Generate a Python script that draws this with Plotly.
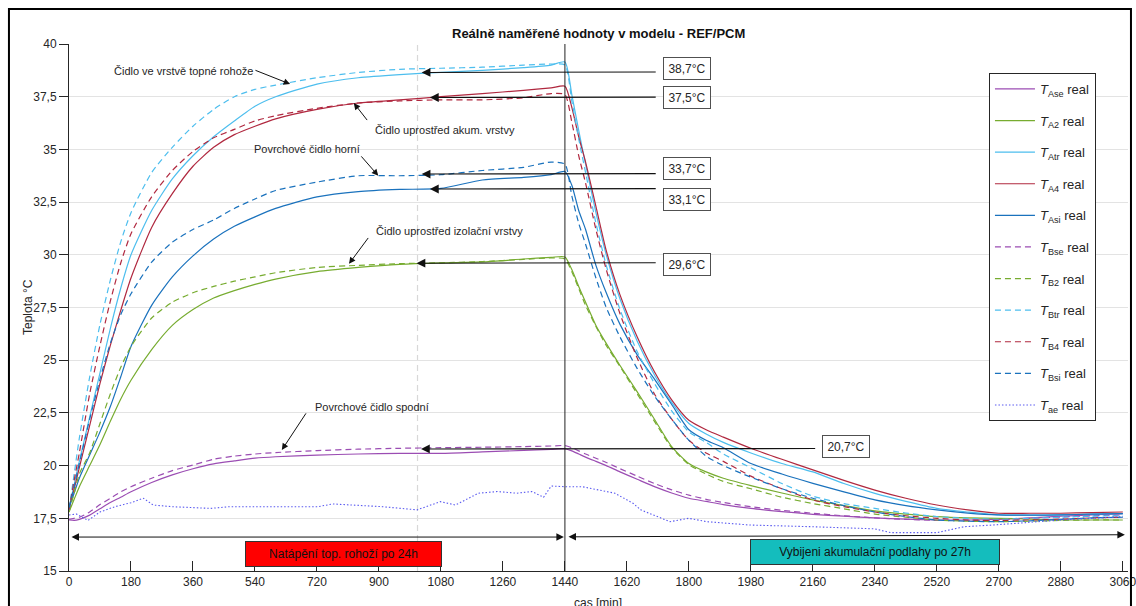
import plotly.graph_objects as go

# ---------------- data ----------------
t = [0, 15, 30, 60, 90, 120, 150, 180, 240, 300, 360, 420, 480, 540, 600, 720, 840, 960,
     1080, 1200, 1320, 1400, 1440, 1460, 1480, 1500, 1530, 1560, 1600, 1650, 1700, 1750,
     1800, 1850, 1900, 1980, 2070, 2160, 2250, 2340, 2430, 2520, 2610, 2700, 2790, 2880,
     2970, 3060]

T_Ase = [17.42, 17.40, 17.45, 17.65, 17.95, 18.25, 18.50, 18.76, 19.20, 19.56, 19.85, 20.08,
         20.22, 20.35, 20.42, 20.50, 20.55, 20.58, 20.58, 20.65, 20.72, 20.77, 20.80, 20.70,
         20.55, 20.40, 20.20, 20.00, 19.70, 19.35, 19.00, 18.70, 18.45, 18.30, 18.15, 17.97,
         17.82, 17.69, 17.60, 17.52, 17.46, 17.42, 17.42, 17.45, 17.52, 17.60, 17.66, 17.72]
T_A2 = [17.80, 18.40, 19.00, 20.00, 21.00, 22.10, 23.15, 24.05, 25.50, 26.65, 27.40, 27.95,
        28.30, 28.60, 28.85, 29.20, 29.40, 29.55, 29.62, 29.66, 29.80, 29.88, 29.90, 29.30,
        28.50, 27.75, 26.65, 25.80, 24.75, 23.50, 22.20, 20.90, 20.10, 19.70, 19.40, 19.05,
        18.70, 18.37, 18.10, 17.85, 17.70, 17.58, 17.52, 17.50, 17.46, 17.42, 17.42, 17.42]
T_Atr = [18.00, 19.10, 20.20, 22.30, 24.40, 26.50, 28.40, 30.00, 32.10, 33.60, 34.70, 35.60,
         36.35, 37.05, 37.50, 38.10, 38.40, 38.55, 38.65, 38.75, 38.88, 39.00, 39.15, 37.60,
         35.90, 34.30, 32.00, 30.00, 27.90, 25.90, 24.30, 23.00, 22.00, 21.50, 21.10, 20.60,
         20.10, 19.70, 19.15, 18.68, 18.30, 17.97, 17.80, 17.66, 17.65, 17.66, 17.70, 17.72]
T_A4 = [18.00, 18.90, 19.90, 21.90, 23.90, 25.70, 27.35, 28.90, 31.30, 32.90, 34.20, 35.10,
        35.70, 36.10, 36.45, 36.90, 37.20, 37.35, 37.50, 37.65, 37.80, 37.92, 38.00, 37.00,
        35.60, 34.40, 32.30, 30.20, 28.10, 26.10, 24.45, 23.12, 22.15, 21.70, 21.35, 20.82,
        20.30, 19.80, 19.30, 18.84, 18.45, 18.13, 17.90, 17.74, 17.74, 17.74, 17.77, 17.80]
T_Asi = [18.00, 18.70, 19.40, 20.50, 21.60, 22.80, 24.20, 25.65, 27.60, 28.95, 29.95, 30.75,
         31.35, 31.80, 32.20, 32.75, 33.00, 33.10, 33.15, 33.55, 33.67, 33.80, 33.95, 33.30,
         32.10, 31.20, 29.50, 28.20, 26.70, 25.25, 24.10, 22.90, 21.70, 21.20, 20.85, 20.10,
         19.60, 19.16, 18.75, 18.37, 18.10, 17.90, 17.75, 17.66, 17.65, 17.66, 17.70, 17.72]
T_Bse = [17.45, 17.50, 17.55, 17.80, 18.15, 18.45, 18.75, 19.00, 19.40, 19.76, 20.03, 20.30,
         20.45, 20.55, 20.62, 20.71, 20.78, 20.82, 20.85, 20.87, 20.90, 20.93, 20.95, 20.85,
         20.70, 20.55, 20.35, 20.15, 19.85, 19.50, 19.15, 18.85, 18.60, 18.40, 18.25, 18.05,
         17.88, 17.74, 17.62, 17.52, 17.45, 17.40, 17.40, 17.42, 17.50, 17.56, 17.62, 17.66]
T_B2 = [17.80, 18.70, 19.60, 20.60, 22.00, 23.40, 24.65, 25.65, 27.00, 27.75, 28.20, 28.50,
        28.75, 28.95, 29.15, 29.40, 29.50, 29.58, 29.62, 29.68, 29.78, 29.85, 29.80, 29.20,
        28.40, 27.60, 26.60, 25.70, 24.70, 23.40, 22.10, 20.85, 20.05, 19.60, 19.25, 18.90,
        18.50, 18.20, 17.95, 17.70, 17.55, 17.42, 17.36, 17.34, 17.36, 17.40, 17.42, 17.42]
T_Btr = [17.90, 19.60, 21.30, 24.20, 26.70, 28.80, 30.60, 32.00, 33.90, 35.10, 36.10, 36.90,
         37.50, 37.85, 38.05, 38.40, 38.65, 38.80, 38.85, 38.90, 39.00, 39.05, 39.00, 37.30,
         35.50, 33.90, 31.50, 29.50, 27.40, 25.40, 23.90, 22.60, 21.60, 21.10, 20.55, 19.90,
         19.15, 18.55, 18.20, 17.97, 17.75, 17.58, 17.50, 17.45, 17.50, 17.55, 17.60, 17.62]
T_B4 = [17.90, 19.30, 20.60, 23.40, 25.70, 27.80, 29.60, 31.00, 32.75, 34.00, 34.90, 35.55,
        35.95, 36.35, 36.60, 36.95, 37.20, 37.30, 37.35, 37.35, 37.45, 37.65, 37.60, 36.30,
        34.70, 33.40, 31.20, 29.30, 27.20, 25.10, 23.40, 22.20, 21.20, 20.60, 20.20, 19.50,
        18.90, 18.37, 18.05, 17.80, 17.62, 17.50, 17.42, 17.40, 17.42, 17.46, 17.52, 17.55]
T_Bsi = [18.00, 19.00, 20.10, 22.20, 24.10, 25.80, 27.15, 28.15, 29.65, 30.60, 31.20, 31.65,
         32.20, 32.65, 33.05, 33.45, 33.75, 33.75, 33.80, 34.00, 34.15, 34.40, 34.30, 32.80,
         31.50, 30.50, 28.90, 27.50, 26.10, 24.60, 23.30, 22.20, 21.20, 20.45, 20.00, 19.45,
         18.90, 18.45, 18.10, 17.80, 17.58, 17.42, 17.36, 17.34, 17.38, 17.45, 17.52, 17.55]

tae_t = [0, 22, 55, 90, 133, 180, 216, 244, 300, 411, 466, 577, 722, 766, 911, 1011, 1078,
         1122, 1189, 1244, 1300, 1344, 1378, 1400, 1440, 1490, 1585, 1639, 1660, 1745, 1799,
         1852, 1978, 2159, 2339, 2386, 2520, 2599, 2700, 2880, 3060]
T_ae = [17.66, 17.70, 17.40, 17.80, 18.05, 18.24, 18.45, 18.13, 18.05, 17.97, 18.05, 18.05,
        18.05, 18.18, 18.05, 17.90, 18.29, 18.13, 18.69, 18.77, 18.69, 18.77, 18.50, 19.03,
        19.00, 19.00, 18.69, 18.20, 17.90, 17.34, 17.50, 17.34, 17.18, 17.10, 17.00, 16.82,
        16.82, 17.10, 17.20, 17.42, 17.58]

x_ticks = list(range(0, 3061, 180))
y_ticks = [15, 17.5, 20, 22.5, 25, 27.5, 30, 32.5, 35, 37.5, 40]
y_ticktext = ["15", "17,5", "20", "22,5", "25", "27,5", "30", "32,5", "35", "37,5", "40"]

# value call-outs: label, value pointed at, time of arrow head
callout_labels = ["38,7°C", "37,5°C", "33,7°C", "33,1°C", "29,6°C", "20,7°C"]
callout_values = [38.65, 37.46, 33.83, 33.12, 29.60, 20.79]
callout_head_t = [1024, 1048, 1024, 1048, 1009, 1022]

# ---------------- styling ----------------
C_PUR = "#9B4DB3"
C_GRN = "#77AC30"
C_LBL = "#4DBEEE"
C_RED = "#B0283F"
C_BLU = "#1A72BD"
C_AE = "#5A5AF0"
FONT = "Liberation Sans, Arial, sans-serif"
TXT = "#262626"

series = [
    ("Ase", T_Ase, C_PUR, "solid"), ("A2", T_A2, C_GRN, "solid"),
    ("Atr", T_Atr, C_LBL, "solid"), ("A4", T_A4, C_RED, "solid"),
    ("Asi", T_Asi, C_BLU, "solid"), ("Bse", T_Bse, C_PUR, "6px,4px"),
    ("B2", T_B2, C_GRN, "6px,4px"), ("Btr", T_Btr, C_LBL, "6px,4px"),
    ("B4", T_B4, C_RED, "6px,4px"), ("Bsi", T_Bsi, C_BLU, "6px,4px"),
]

fig = go.Figure()
for i, (sub, vals, col, dash) in enumerate(series):
    fig.add_trace(go.Scatter(
        x=t, y=vals, mode="lines", name=f"<i>T</i><sub>{sub}</sub> real",
        legendgroup=f"g{i}",
        line=dict(color=col, width=1.2, dash=dash, shape="spline", smoothing=0.6)))
fig.add_trace(go.Scatter(
    x=tae_t, y=T_ae, mode="lines", name="<i>T</i><sub>ae</sub> real", legendgroup="g10",
    line=dict(color=C_AE, width=1.1, dash="1.5px,2px")))

shapes = []
shapes.append(dict(type="line", xref="x", yref="y", x0=1012, x1=1012, y0=15, y1=40,
                   line=dict(color="#D8D8D8", width=1.2, dash="6px,4px"), layer="below"))
shapes.append(dict(type="line", xref="x", yref="y", x0=1440, x1=1440, y0=15, y1=40,
                   line=dict(color="#222222", width=1)))
shapes.append(dict(type="rect", xref="paper", yref="paper", x0=-0.0567, x1=1.0028,
                   y0=-0.09, y1=1.0664, line=dict(color="black", width=2)))

ann = []
for lab, val, ht in zip(callout_labels, callout_values, callout_head_t):
    tail_t = 2171 if lab == "20,7°C" else 1708
    box_t = 2256 if lab == "20,7°C" else 1795
    box_dy = {"38,7°C": 0.18, "37,5°C": 0.0, "33,7°C": 0.28, "33,1°C": -0.5,
              "29,6°C": -0.06, "20,7°C": 0.12}[lab]
    ann.append(dict(x=ht, y=val, xref="x", yref="y", ax=tail_t, ay=val + 0.02,
                    axref="x", ayref="y", text="", showarrow=True, arrowhead=2,
                    arrowsize=1.6, arrowwidth=1.1, arrowcolor="#111111"))
    ann.append(dict(x=box_t, y=val + box_dy, xref="x", yref="y", text=lab, showarrow=False,
                    xanchor="center", yanchor="middle",
                    font=dict(family=FONT, size=12, color=TXT), bgcolor="white",
                    bordercolor="#505050", borderwidth=1, borderpad=1, width=44, height=19))

labels = [
    ("Čidlo ve vrstvě topné rohože", 124, 38.73, (537, 38.78), (642, 38.10)),
    ("Čidlo uprostřed akum. vrstvy", 882, 35.90, (869, 36.32), (827, 37.20)),
    ("Povrchové čidlo horní", 530, 35.03, (845, 34.74), (898, 33.75)),
    ("Čidlo uprostřed izolační vrstvy", 886, 31.15, (872, 30.87), (813, 29.57)),
    ("Povrchové čidlo spodní", 708, 22.78, (691, 22.55), (618, 20.74)),
]
for txt, tx, ty, tail, head in labels:
    ann.append(dict(x=tx, y=ty, xref="x", yref="y", text=txt, showarrow=False,
                    xanchor="left", yanchor="middle", font=dict(family=FONT, size=11, color=TXT)))
    ann.append(dict(x=head[0], y=head[1], xref="x", yref="y", ax=tail[0], ay=tail[1],
                    axref="x", ayref="y", text="", showarrow=True, arrowhead=2,
                    arrowsize=1.3, arrowwidth=1, arrowcolor="#111111"))

ann.append(dict(x=1437, y=16.61, xref="x", yref="y", ax=3, ay=16.61, axref="x", ayref="y",
                text="", showarrow=True, arrowhead=2, startarrowhead=2, arrowside="end+start",
                arrowsize=1.5, startarrowsize=1.5, arrowwidth=1, arrowcolor="#111111"))
ann.append(dict(x=3066, y=16.72, xref="x", yref="y", ax=1446, ay=16.62, axref="x", ayref="y",
                text="", showarrow=True, arrowhead=2, startarrowhead=2, arrowside="end+start",
                arrowsize=1.5, startarrowsize=1.5, arrowwidth=1, arrowcolor="#111111"))
ann.append(dict(x=0.2592, y=0.0323, xref="paper", yref="paper", text="Natápění top. rohoží po 24h",
                xanchor="center", yanchor="middle",
                showarrow=False, font=dict(family=FONT, size=12, color="#111111"),
                bgcolor="#FF0000", bordercolor="#333333", borderwidth=1, borderpad=0,
                width=195, height=24))
ann.append(dict(x=0.7611, y=0.0361, xref="paper", yref="paper",
                text="Vybijeni akumulační podlahy po 27h", xanchor="center", yanchor="middle",
                showarrow=False, font=dict(family=FONT, size=12, color="#111111"),
                bgcolor="#14BDBD", bordercolor="#333333", borderwidth=1, borderpad=0,
                width=248, height=24))
ann.append(dict(x=0.4995, y=-0.0607, xref="paper", yref="paper", text="cas [min]",
                xanchor="center", yanchor="middle",
                showarrow=False, font=dict(family=FONT, size=12, color=TXT)))
ann.append(dict(x=-0.0387, y=0.501, xref="paper", yref="paper", text="Teplota °C",
                xanchor="center", yanchor="middle",
                textangle=-90, showarrow=False, font=dict(family=FONT, size=12, color=TXT)))
ann.append(dict(x=0.5, y=(571 - 34) / 527, xref="paper", yref="paper",
                text="<b>Reálně naměřené hodnoty v modelu - REF/PCM</b>",
                xanchor="center", yanchor="middle",
                showarrow=False, font=dict(family=FONT, size=13, color="#111111")))

fig.update_layout(
    width=1136, height=606,
    margin=dict(l=69, r=8, t=44, b=35, autoexpand=False),
    paper_bgcolor="white", plot_bgcolor="white",
    font=dict(family=FONT, size=12, color=TXT),
    shapes=shapes, annotations=ann,
    legend=dict(x=0.8687, y=0.945, xanchor="left", yanchor="top",
                bgcolor="white", bordercolor="#262626", borderwidth=1,
                traceorder="grouped", tracegroupgap=11.7, itemwidth=40,
                font=dict(family=FONT, size=13, color=TXT)),
    showlegend=True,
)
fig.update_xaxes(range=[0, 3075], tickvals=x_ticks, ticks="inside", ticklen=10,
                 tickcolor="#262626", showline=True, linecolor="#262626", linewidth=1,
                 showgrid=False, zeroline=False, automargin=False, ticklabeloverflow="allow",
                 tickfont=dict(family=FONT, size=12, color=TXT))
fig.update_yaxes(range=[15, 40], tickvals=y_ticks, ticktext=y_ticktext, ticks="outside",
                 ticklen=9, tickcolor="#262626", showline=True, linecolor="#262626",
                 linewidth=1, showgrid=True, gridcolor="#E3E3E3", zeroline=False,
                 automargin=False, tickfont=dict(family=FONT, size=12, color=TXT))

fig.write_html("out.html")
